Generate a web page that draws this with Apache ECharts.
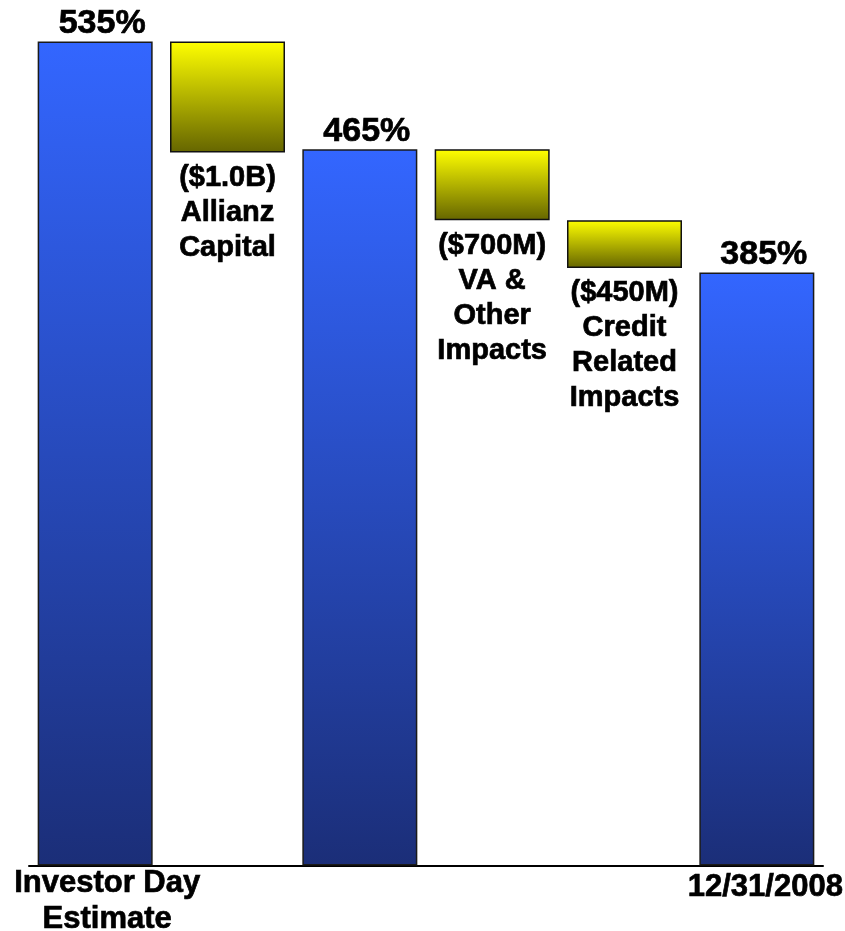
<!DOCTYPE html>
<html>
<head>
<meta charset="utf-8">
<script src="https://cdn.jsdelivr.net/npm/echarts@6/dist/echarts.min.js"></script>
<style>
  html, body { margin: 0; padding: 0; background: #fff; }
  #chart { width: 845px; height: 931px; }
</style>
</head>
<body>
<div id="chart"></div>
<script>
// Waterfall: RBC ratio bridge from Investor Day estimate to year end
const categories = ['Investor Day\nEstimate', 'Allianz Capital', 'After Allianz', 'VA & Other Impacts', 'Credit Related Impacts', '12/31/2008'];

// Totals (blue columns), by category index
const totalIndex = [0, 2, 5];
const totalValues = [535, 465, 385];
const totalLabels = ['535%', '465%', '385%'];

// Reductions (yellow floating blocks): level before and after each step
const stepIndex = [1, 3, 4];
const stepFrom = [535, 465, 419];
const stepTo = [463, 419, 388];
const stepLabels = ['($1.0B)\nAllianz\nCapital', '($700M)\nVA &\nOther\nImpacts', '($450M)\nCredit\nRelated\nImpacts'];

const FONT = '"Liberation Sans", Arial, Helvetica, sans-serif';
const n = categories.length;

// Heavier text weight: bold face plus a hairline outline
const heavy = { fontFamily: FONT, fontWeight: 'bold', color: '#000', textBorderColor: '#000', textBorderWidth: 0.7 };

const baseData = new Array(n).fill('-');
const totalData = new Array(n).fill('-');
const stepData = new Array(n).fill('-');

totalIndex.forEach((ci, k) => {
  baseData[ci] = 0;
  totalData[ci] = totalValues[k];
});
stepIndex.forEach((ci, k) => {
  baseData[ci] = stepTo[k];
  stepData[ci] = stepFrom[k] - stepTo[k];
});

const labelOfTotal = {};
totalIndex.forEach((ci, k) => { labelOfTotal[ci] = totalLabels[k]; });
const labelOfStep = {};
stepIndex.forEach((ci, k) => { labelOfStep[ci] = stepLabels[k]; });

const chart = echarts.init(document.getElementById('chart'), null, { renderer: 'canvas' });

const option = {
  backgroundColor: '#ffffff',
  animation: false,
  grid: { left: 29, right: 22, top: 41.5, bottom: 65.5, containLabel: false, outerBoundsMode: 'none' },
  xAxis: {
    type: 'category',
    data: categories,
    boundaryGap: true,
    axisLine: { show: true, lineStyle: { color: '#000', width: 2 } },
    axisTick: { show: false },
    axisLabel: {
      interval: 0,
      margin: 0,
      verticalAlign: 'top',
      hideOverlap: false,
      formatter: function (value, idx) {
        if (idx === 0) return '{a|Investor Day}\n{a|Estimate}';
        if (idx === n - 1) return '{b|' + value + '}';
        return '';
      },
      rich: {
        a: Object.assign({}, heavy, { fontSize: 31, lineHeight: 36, padding: [0, 0, 0, 24] }),
        b: Object.assign({}, heavy, { fontSize: 31, lineHeight: 36, padding: [7, 0, 0, 17] })
      }
    },
    splitLine: { show: false }
  },
  yAxis: {
    type: 'value',
    min: 0,
    max: 535,
    show: false,
    splitLine: { show: false }
  },
  series: [
    {
      name: 'base',
      type: 'bar',
      stack: 'w',
      barWidth: 115,
      silent: true,
      itemStyle: { color: 'rgba(0,0,0,0)', borderWidth: 0 },
      data: baseData
    },
    {
      name: 'total',
      type: 'bar',
      stack: 'w',
      barWidth: 115,
      z: 3,
      itemStyle: {
        color: new echarts.graphic.LinearGradient(0, 0, 0, 1, [
          { offset: 0, color: '#3366ff' },
          { offset: 1, color: '#1b2e78' }
        ]),
        borderColor: '#1a1a1a',
        borderWidth: 1.5
      },
      label: Object.assign({}, heavy, {
        show: true,
        position: 'top',
        distance: 1,
        offset: [7, 0],
        fontSize: 34,
        formatter: p => labelOfTotal[p.dataIndex] || ''
      }),
      data: totalData
    },
    {
      name: 'step',
      type: 'bar',
      stack: 'w',
      barWidth: 115,
      z: 3,
      itemStyle: {
        color: new echarts.graphic.LinearGradient(0, 0, 0, 1, [
          { offset: 0, color: '#ffff00' },
          { offset: 1, color: '#656500' }
        ]),
        borderColor: '#111',
        borderWidth: 1.5
      },
      label: Object.assign({}, heavy, {
        show: true,
        position: 'bottom',
        distance: 8,
        fontSize: 29,
        lineHeight: 35,
        align: 'center',
        formatter: p => labelOfStep[p.dataIndex] || ''
      }),
      data: stepData
    }
  ]
};

chart.setOption(option);
</script>
</body>
</html>
